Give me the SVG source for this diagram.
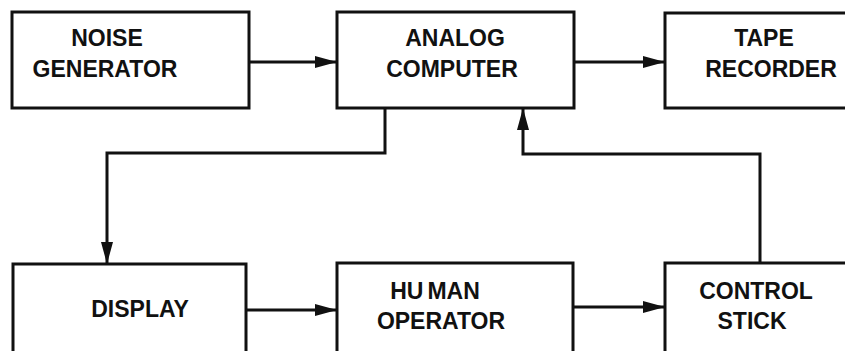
<svg xmlns="http://www.w3.org/2000/svg" width="845" height="351" viewBox="0 0 845 351">
<style>
.box{fill:none;stroke:#111;stroke-width:3}
.ln{fill:none;stroke:#111;stroke-width:3}
text{font-family:"Liberation Sans",Arial,sans-serif;font-size:23px;font-weight:bold;fill:#111;text-anchor:middle}
</style>
<defs>
<marker id="ah" markerUnits="userSpaceOnUse" markerWidth="24" markerHeight="14" refX="22" refY="7" orient="auto">
<path d="M0,1 L22,7 L0,13 Z" fill="#111"/>
</marker>
</defs>
<rect width="845" height="351" fill="#fff"/>
<g id="noise"><rect class="box" x="12" y="12" width="237" height="96"/><text x="107" y="46">NOISE</text><text x="105" y="77">GENERATOR</text></g>
<g id="analog"><rect class="box" x="337" y="12" width="237" height="96"/><text x="455" y="46">ANALOG</text><text x="452" y="77">COMPUTER</text></g>
<g id="tape"><rect class="box" x="665" y="13" width="200" height="95"/><text x="764" y="46">TAPE</text><text x="771" y="77">RECORDER</text></g>
<g id="display"><rect class="box" x="13" y="264" width="233" height="100"/><text x="140" y="317">DISPLAY</text></g>
<g id="human"><rect class="box" x="337" y="263" width="236" height="100"/><text x="435" y="299">HU<tspan dx="4">MAN</tspan></text><text x="441" y="329">OPERATOR</text></g>
<g id="control"><rect class="box" x="665" y="263" width="200" height="100"/><text x="756" y="299">CONTROL</text><text x="752" y="329">STICK</text></g>
<g id="connectors">
<path class="ln" d="M249,62 H337" marker-end="url(#ah)"/>
<path class="ln" d="M574,62 H665" marker-end="url(#ah)"/>
<path class="ln" d="M385,108 V153 H107 V264" marker-end="url(#ah)"/>
<path class="ln" d="M760,263 V154 H523 V108" marker-end="url(#ah)"/>
<path class="ln" d="M246,310 H337" marker-end="url(#ah)"/>
<path class="ln" d="M573,307 H665" marker-end="url(#ah)"/>
</g>
</svg>
